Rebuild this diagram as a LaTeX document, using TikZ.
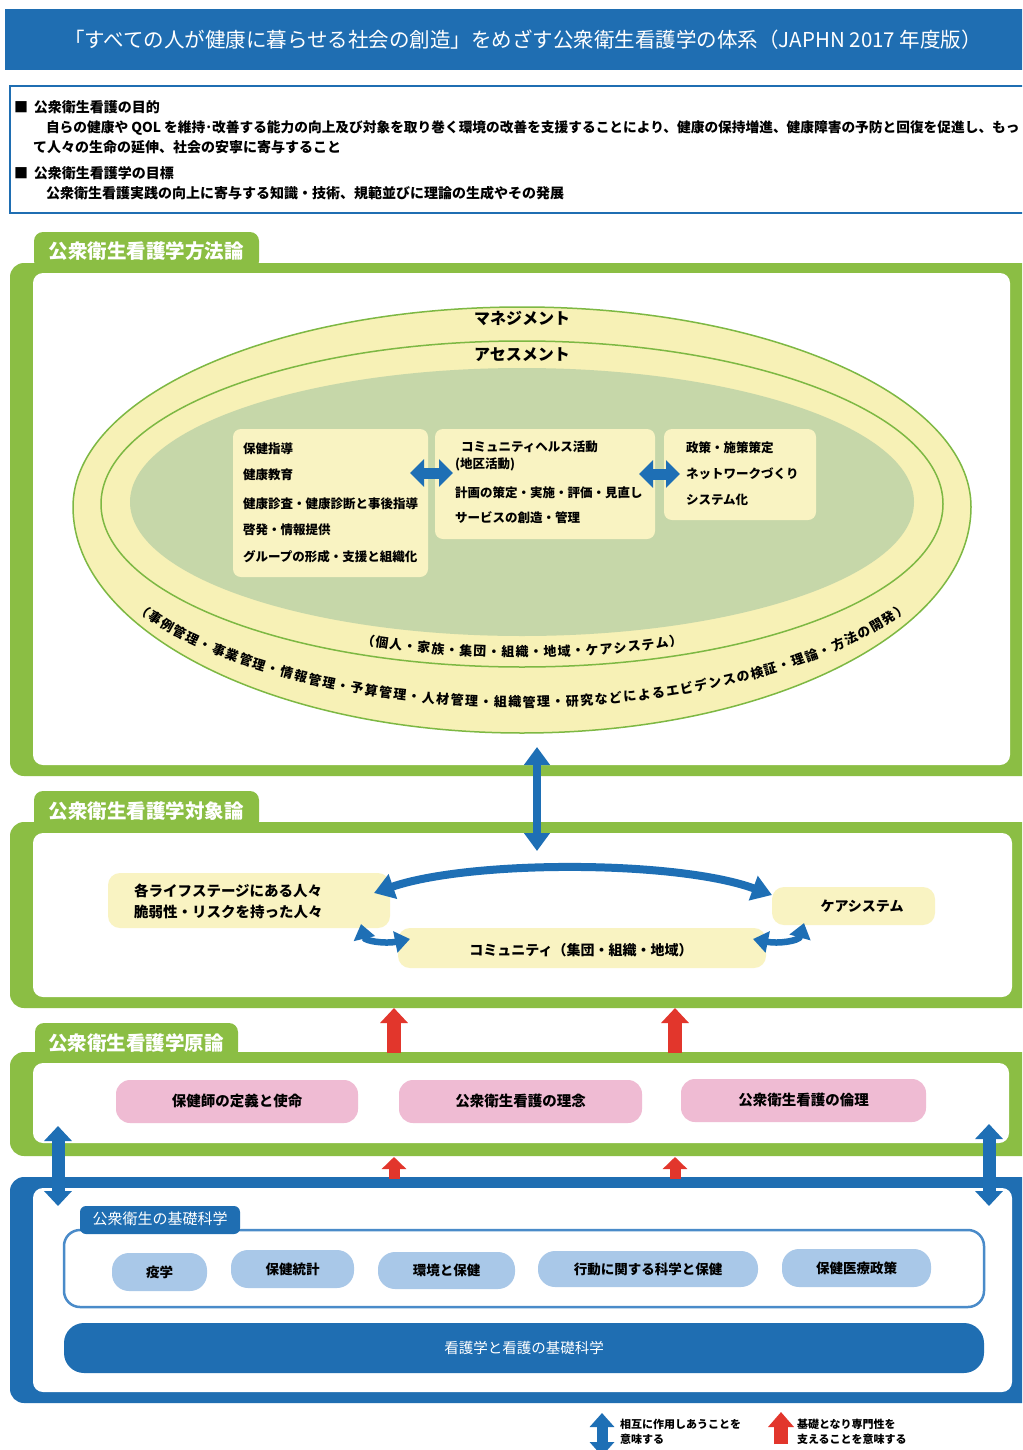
\documentclass[tikz,border=0pt]{standalone}
\usepackage{fontspec}
\setmainfont{Noto Sans CJK JP}
\usetikzlibrary{arrows.meta,decorations.markings}
\definecolor{bannerblue}{HTML}{1F6EB2}
\definecolor{fgreen}{HTML}{8BBE44}
\definecolor{lgreen}{HTML}{7DB843}
\definecolor{egg}{HTML}{F7F1B6}
\definecolor{boxy}{HTML}{F9F3C2}
\definecolor{core}{HTML}{C6D7A9}
\definecolor{pinkbox}{HTML}{EFBBD3}
\definecolor{pillblue}{HTML}{A9C8E8}
\definecolor{ablue}{HTML}{1E6FB5}
\definecolor{ared}{HTML}{E2362C}
\definecolor{subline}{HTML}{4A8BC9}
\newcommand{\fsz}[1]{\fontsize{#1}{#1}\selectfont}
\tikzset{
  lbl/.style={inner sep=0pt, outer sep=0pt, font=\bfseries\fsz{#1}},
  wlbl/.style={inner sep=0pt, outer sep=0pt, text=white, font=\fsz{#1}},
  wblbl/.style={inner sep=0pt, outer sep=0pt, text=white, font=\bfseries\fsz{#1}},
  ybox/.style={fill=boxy, rounded corners=8pt, inner sep=0pt},
  sbox/.style={fill=boxy, rounded corners=12pt, inner sep=0pt, font=\bfseries\fsz{14}},
  pinkpill/.style={fill=pinkbox, rounded corners=14pt, inner sep=0pt, font=\bfseries\fsz{14.5}},
  bluepill/.style={fill=pillblue, rounded corners=17pt, inner sep=0pt, font=\bfseries\fsz{13.5}},
  dbl/.style 2 args={>={Triangle[width=#1,length=#2]}, <->},
  sgl/.style 2 args={>={Triangle[width=#1,length=#2]}, ->},
}
\begin{document}
\begin{tikzpicture}[x=1pt,y=-1pt]
\useasboundingbox (0,0) rectangle (1022,1450);
\clip (0,0) rectangle (1022,1450);
\fill[white] (0,0) rectangle (1022,1450);

% ---------- title banner ----------
\fill[bannerblue] (5,9) rectangle (1040,70);
\node[wlbl=20.5] (title) at (523,40) {「すべての人が健康に暮らせる社会の創造」をめざす公衆衛生看護学の体系（JAPHN 2017 年度版）};

% ---------- purpose box ----------
\draw[bannerblue, line width=2pt, fill=white] (10,86) rectangle (1040,213);
\node[lbl=14, anchor=west] (p1) at (14,107) {■\hspace{6pt}公衆衛生看護の目的};
\node[lbl=13.7, anchor=west] (p2) at (46,128) {自らの健康や QOL を維持･改善する能力の向上及び対象を取り巻く環境の改善を支援することにより、健康の保持増進、健康障害の予防と回復を促進し、もっ};
\node[lbl=14, anchor=west] (p3) at (33,147) {て人々の生命の延伸、社会の安寧に寄与すること};
\node[lbl=14, anchor=west] (p4) at (14,173) {■\hspace{6pt}公衆衛生看護学の目標};
\node[lbl=14, anchor=west] (p5) at (46,193) {公衆衛生看護実践の向上に寄与する知識・技術、規範並びに理論の生成やその発展};

% ---------- section 1 : methodology ----------
\fill[fgreen, rounded corners=9pt] (34,232) rectangle (259,270);
\node[wblbl=19.5] (tab1) at (146,251) {公衆衛生看護学方法論};
\fill[fgreen, rounded corners=14pt] (10,263) rectangle (1040,776);
\fill[white, rounded corners=10pt] (33,273) rectangle (1010,765);

% egg shaped outer ellipse
\path[draw=lgreen, line width=1.5pt, fill=egg] (73pt,-507pt)
  arc[start angle=180, end angle=0, x radius=449pt, y radius=200pt]
  arc[start angle=0, end angle=-180, x radius=449pt, y radius=226pt] -- cycle;
\path[draw=lgreen, line width=1.5pt, fill=egg] (522pt,-504pt) ellipse[x radius=421pt, y radius=163pt];
\path[fill=core] (522pt,-502pt) ellipse[x radius=392pt, y radius=134pt];

\node[lbl=16] (mgmt) at (522,318) {マネジメント};
\node[lbl=16] (assess) at (522,355) {アセスメント};

% curved texts, one character at a time, evenly spaced along the arcs
\foreach \c [count=\i] in {（,個,人,・,家,族,・,集,団,・,組,織,・,地,域,・,ケ,ア,シ,ス,テ,ム,）}{
  \pgfmathsetmacro\pos{(\i-0.5)/23}
  \path[decorate, decoration={markings, mark=at position \pos with {\node[transform shape, anchor=base, lbl=13] (ic\i) {\c};}}]
    (522pt,-504pt) ++(246.5:405pt and 153pt)
    arc[start angle=246.5, end angle=293.5, x radius=405pt, y radius=153pt];
}
\foreach \c [count=\i] in {（,事,例,管,理,・,事,業,管,理,・,情,報,管,理,・,予,算,管,理,・,人,材,管,理,・,組,織,管,理,・,研,究,な,ど,に,よ,る,エ,ビ,デ,ン,ス,の,検,証,・,理,論,・,方,法,の,開,発,）}{
  \pgfmathsetmacro\pos{(\i-0.5)/56}
  \path[decorate, decoration={markings, mark=at position \pos with {\node[transform shape, anchor=base, lbl=13] (oc\i) {\c};}}]
    (522pt,-507pt) ++(211pt:452pt and 200pt)
    arc[start angle=211, end angle=329, x radius=452pt, y radius=200pt];
}

% inner boxes
\node[ybox, minimum width=195pt, minimum height=148pt] (boxA) at (330.5,503) {};
\node[ybox, minimum width=220pt, minimum height=110pt] (boxB) at (545,484) {};
\node[ybox, minimum width=152pt, minimum height=91pt] (boxC) at (740,474.5) {};

\node[lbl=12.5, anchor=west] (a1) at (243,449) {保健指導};
\node[lbl=12.5, anchor=west] (a2) at (243,475) {健康教育};
\node[lbl=12.5, anchor=west] (a3) at (243,504) {健康診査・健康診断と事後指導};
\node[lbl=12.5, anchor=west] (a4) at (243,530) {啓発・情報提供};
\node[lbl=12.5, anchor=west] (a5) at (243,557) {グループの形成・支援と組織化};

\node[lbl=12.5, anchor=west] (b1) at (461,447) {コミュニティヘルス活動};
\node[lbl=12.5, anchor=west] (b2) at (455,464) {(地区活動)};
\node[lbl=12.5, anchor=west] (b3) at (455,493) {計画の策定・実施・評価・見直し};
\node[lbl=12.5, anchor=west] (b4) at (455,518) {サービスの創造・管理};

\node[lbl=12.5, anchor=west] (c1) at (686,448) {政策・施策策定};
\node[lbl=12.5, anchor=west] (c2) at (686,474) {ネットワークづくり};
\node[lbl=12.5, anchor=west] (c3) at (686,500) {システム化};

\coordinate (e1a) at (410,473);
\coordinate (e1b) at (453,473);
\coordinate (e2a) at (639,474);
\coordinate (e2b) at (680,474);
\draw[ablue, line width=11pt, dbl={27pt}{14pt}] (e1a) -- (e1b);
\draw[ablue, line width=11pt, dbl={27pt}{14pt}] (e2a) -- (e2b);

% ---------- section 2 : object theory ----------
\fill[fgreen, rounded corners=9pt] (34,791) rectangle (259,830);
\node[wblbl=19.5] (tab2) at (146,811) {公衆衛生看護学対象論};
\fill[fgreen, rounded corners=14pt] (10,822) rectangle (1040,1008);
\fill[white, rounded corners=10pt] (33,833) rectangle (1012,997);

\node[sbox, minimum width=282pt, minimum height=55pt] (life) at (249,900.5) {};
\node[lbl=14.5, anchor=west] (life1) at (134,891) {各ライフステージにある人々};
\node[lbl=14.5, anchor=west] (life2) at (134,912) {脆弱性・リスクを持った人々};
\node[sbox, minimum width=163pt, minimum height=38pt] (care) at (853.5,906) {};
\node[lbl=14] (caret) at (862,906) {ケアシステム};
\node[sbox, minimum width=368pt, minimum height=40pt] (comm) at (582,948) {};
\node[lbl=14] (commt) at (581,950) {コミュニティ（集団・組織・地域）};

\coordinate (arcL) at (374,893);
\coordinate (arcR) at (772,895);
\draw[ablue, line width=8pt, dbl={25pt}{20pt}] (arcL) .. controls (470,860) and (676,860) .. (arcR);
\coordinate (sL1) at (361,924);
\coordinate (sL2) at (410,939);
\draw[ablue, line width=6.5pt, dbl={21pt}{15pt}] (sL1) .. controls (365,941) and (385,944) .. (sL2);
\coordinate (sR1) at (753,939);
\coordinate (sR2) at (804,923);
\draw[ablue, line width=6.5pt, dbl={21pt}{15pt}] (sR1) .. controls (778,944) and (799,941) .. (sR2);

% vertical arrow between section 1 and 2
\coordinate (v1) at (537,747);
\coordinate (v2) at (537,851);
\draw[ablue, line width=8pt, dbl={25pt}{18pt}] (v1) -- (v2);

% ---------- section 3 : principles ----------
\fill[fgreen, rounded corners=9pt] (35,1023) rectangle (238,1060);
\node[wblbl=19.5] (tab3) at (136,1043) {公衆衛生看護学原論};
\fill[fgreen, rounded corners=14pt] (10,1052) rectangle (1040,1156);
\fill[white, rounded corners=10pt] (33,1063) rectangle (1009,1143);

\node[pinkpill, minimum width=242pt, minimum height=43pt] (def) at (237,1101.5) {保健師の定義と使命};
\node[pinkpill, minimum width=243pt, minimum height=43pt] (idea) at (520.5,1101.5) {公衆衛生看護の理念};
\node[pinkpill, minimum width=245pt, minimum height=43pt] (ethic) at (803.5,1100.5) {公衆衛生看護の倫理};

% red arrows
\coordinate (r1b) at (394,1053);
\coordinate (r1t) at (394,1008);
\coordinate (r2b) at (675,1053);
\coordinate (r2t) at (675,1008);
\draw[ared, line width=14pt, sgl={27pt}{15pt}] (r1b) -- (r1t);
\draw[ared, line width=14pt, sgl={27pt}{15pt}] (r2b) -- (r2t);

% ---------- blue section : basic sciences ----------
\fill[bannerblue, rounded corners=14pt] (10,1177) rectangle (1040,1403);
\fill[white, rounded corners=10pt] (33,1188) rectangle (1012,1392);

\coordinate (r3b) at (394,1179);
\coordinate (r3t) at (394,1157);
\coordinate (r4b) at (675,1179);
\coordinate (r4t) at (675,1157);
\draw[ared, line width=11pt, sgl={24pt}{12pt}] (r3b) -- (r3t);
\draw[ared, line width=11pt, sgl={24pt}{12pt}] (r4b) -- (r4t);

\coordinate (sa1) at (58,1126);
\coordinate (sa2) at (58,1206);
\coordinate (sb1) at (989,1124);
\coordinate (sb2) at (989,1206);
\draw[ablue, line width=13pt, dbl={27pt}{15pt}] (sa1) -- (sa2);
\draw[ablue, line width=13pt, dbl={27pt}{15pt}] (sb1) -- (sb2);

\draw[subline, line width=2.5pt, fill=white, rounded corners=16pt] (64,1230) rectangle (984,1307);
\fill[bannerblue, rounded corners=6pt] (80,1206) rectangle (240,1234);
\fill[bannerblue] (80,1222) rectangle (240,1231);
\node[wlbl=15] (subtab) at (160,1219) {公衆衛生の基礎科学};

\node[bluepill, minimum width=95pt, minimum height=38pt] (epi) at (159.5,1272) {疫学};
\node[bluepill, minimum width=123pt, minimum height=38pt] (stat) at (292.5,1269) {保健統計};
\node[bluepill, minimum width=137pt, minimum height=37pt] (env) at (446.5,1270.5) {環境と保健};
\node[bluepill, minimum width=220pt, minimum height=36pt] (beh) at (648,1269) {行動に関する科学と保健};
\node[bluepill, minimum width=149pt, minimum height=38pt] (pol) at (856.5,1268) {保健医療政策};

\node[fill=bannerblue, rounded corners=20pt, minimum width=920pt, minimum height=50pt, inner sep=0pt, text=white, font=\fsz{14.5}] (nurse) at (524,1348) {看護学と看護の基礎科学};

% ---------- legend ----------
\coordinate (lg1) at (602,1413);
\coordinate (lg2) at (602,1456);
\draw[ablue, line width=11pt, dbl={24pt}{14pt}] (lg1) -- (lg2);
\node[lbl=11, anchor=west] (lgt1) at (620,1424) {相互に作用しあうことを};
\node[lbl=11, anchor=west] (lgt2) at (620,1439) {意味する};
\coordinate (lr1) at (781,1444);
\coordinate (lr2) at (781,1412);
\draw[ared, line width=14pt, sgl={25pt}{15pt}] (lr1) -- (lr2);
\node[lbl=11, anchor=west] (lgt3) at (797,1424) {基礎となり専門性を};
\node[lbl=11, anchor=west] (lgt4) at (797,1439) {支えることを意味する};
\end{tikzpicture}
\end{document}
